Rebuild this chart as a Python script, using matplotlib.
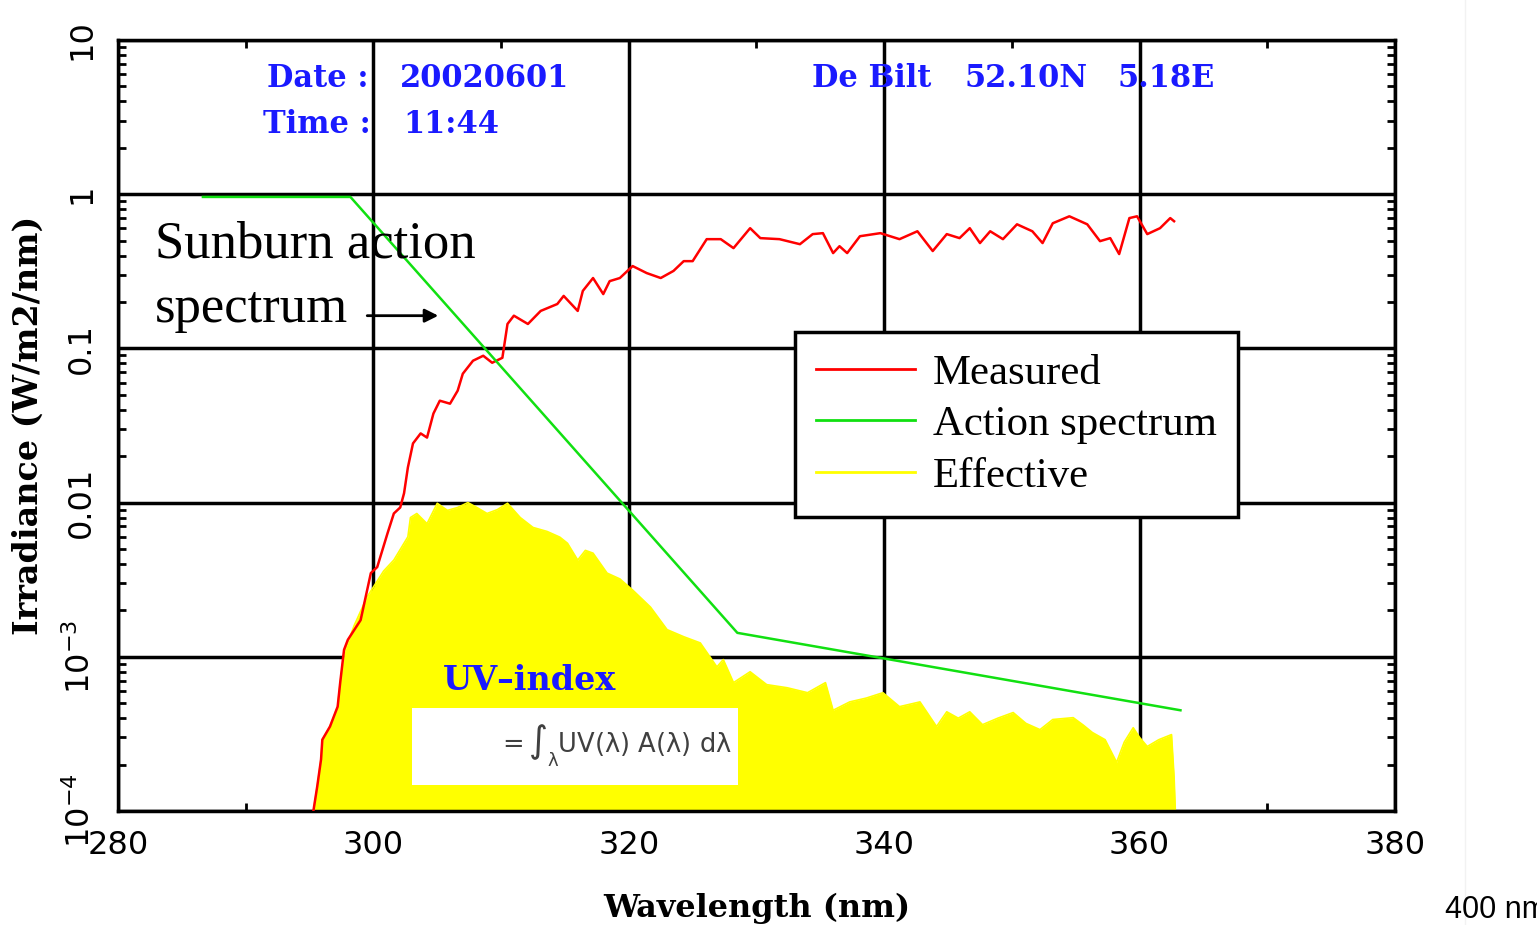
import matplotlib.pyplot as plt
from matplotlib.patches import Rectangle
from matplotlib.lines import Line2D
from matplotlib.ticker import FixedLocator, FixedFormatter, LogLocator, NullFormatter

# Measured spectral irradiance (W/m2/nm), De Bilt 2002-06-01 11:44
measured_wl = [295.3, 295.6, 295.9, 296.0, 296.6, 297.2, 297.4, 297.7, 298.0, 299.0,
               299.8, 300.3, 301.1, 301.6, 302.1, 302.4, 302.7, 303.1, 303.7, 304.2,
               304.7, 305.2, 306.0, 306.6, 307.0, 307.8, 308.6, 309.3, 310.1, 310.5,
               311.0, 312.1, 313.1, 314.4, 314.9, 316.0, 316.4, 317.2, 318.0, 318.5,
               319.3, 320.3, 321.4, 322.5, 323.5, 324.3, 325.0, 326.1, 327.2, 328.2,
               329.5, 330.3, 331.8, 333.4, 334.4, 335.2, 336.0, 336.5, 337.1, 338.1,
               339.7, 341.2, 342.6, 343.8, 344.9, 345.9, 346.7, 347.5, 348.3, 349.3,
               350.4, 351.6, 352.4, 353.2, 354.5, 355.9, 356.9, 357.7, 358.4, 359.2,
               359.8, 360.6, 361.6, 362.4, 362.7]
measured_irr = [1.0e-4, 1.44e-4, 2.16e-4, 2.9e-4, 3.53e-4, 4.75e-4, 6.8e-4, 1.11e-3, 1.29e-3, 1.73e-3,
                3.49e-3, 3.82e-3, 6.3e-3, 8.5e-3, 9.3e-3, 0.0115, 0.0169, 0.0242, 0.0281, 0.0264,
                0.0378, 0.0458, 0.0438, 0.0532, 0.0685, 0.0832, 0.0896, 0.0807, 0.0869, 0.144,
                0.163, 0.144, 0.175, 0.194, 0.219, 0.175, 0.236, 0.286, 0.225, 0.273,
                0.286, 0.342, 0.308, 0.286, 0.318, 0.368, 0.368, 0.511, 0.511, 0.447,
                0.602, 0.519, 0.511, 0.474, 0.551, 0.559, 0.415, 0.460, 0.415, 0.534,
                0.559, 0.511, 0.575, 0.428, 0.551, 0.519, 0.602, 0.482, 0.575, 0.511,
                0.638, 0.575, 0.482, 0.648, 0.719, 0.638, 0.496, 0.519, 0.409, 0.700,
                0.719, 0.551, 0.602, 0.700, 0.668]

# Erythemal (sunburn) action spectrum
action_wl = [286.65, 298.2, 328.5, 363.2]
action_val = [0.96, 0.96, 1.43e-3, 4.5e-4]

# Effective (weighted) irradiance
effective_wl = [295.3, 295.6, 295.9, 296.0, 296.6, 297.2, 297.4, 297.7, 298.5, 299.5,
                300.8, 301.6, 302.7, 302.9, 303.4, 304.2, 305.0, 305.8, 306.6, 307.4,
                308.1, 308.9, 309.7, 310.5, 311.5, 312.5, 313.6, 314.6, 315.2, 316.0,
                316.6, 317.2, 318.3, 319.3, 320.3, 321.7, 323.0, 324.3, 325.6, 326.9,
                327.4, 328.2, 329.5, 330.8, 332.4, 334.0, 335.4, 336.0, 337.3, 338.6,
                339.9, 341.2, 342.8, 344.1, 344.9, 345.8, 346.7, 347.7, 348.9, 350.1,
                351.1, 352.2, 353.2, 354.8, 355.6, 356.3, 357.3, 358.2, 358.8, 359.5,
                360.0, 360.6, 361.5, 362.5, 362.7, 362.8]
effective_irr = [1.0e-4, 1.44e-4, 2.16e-4, 2.9e-4, 3.53e-4, 4.75e-4, 6.8e-4, 1.06e-3, 1.6e-3, 2.44e-3,
                 3.6e-3, 4.24e-3, 6.0e-3, 8.0e-3, 8.5e-3, 7.3e-3, 9.9e-3, 8.9e-3, 9.3e-3, 1.0e-2,
                 9.3e-3, 8.5e-3, 9.0e-3, 9.9e-3, 8.0e-3, 6.9e-3, 6.5e-3, 5.97e-3, 5.45e-3, 4.24e-3,
                 4.9e-3, 4.7e-3, 3.49e-3, 3.2e-3, 2.71e-3, 2.1e-3, 1.5e-3, 1.35e-3, 1.23e-3, 8.6e-4,
                 9.6e-4, 6.8e-4, 8.0e-4, 6.6e-4, 6.3e-4, 5.85e-4, 6.8e-4, 4.5e-4, 5.1e-4, 5.4e-4,
                 5.85e-4, 4.75e-4, 5.1e-4, 3.53e-4, 4.4e-4, 4.0e-4, 4.4e-4, 3.63e-4, 4.0e-4, 4.35e-4,
                 3.7e-4, 3.37e-4, 3.92e-4, 4.03e-4, 3.6e-4, 3.23e-4, 2.9e-4, 2.07e-4, 2.8e-4, 3.47e-4,
                 3.0e-4, 2.62e-4, 2.9e-4, 3.13e-4, 1.67e-4, 1.0e-4]

x_ticks = [280, 300, 320, 340, 360, 380]
x_minor = [290, 310, 330, 350, 370]
y_ticks = [1e-4, 1e-3, 1e-2, 0.1, 1, 10]
y_tick_labels = [r'$10^{-4}$', r'$10^{-3}$', '0.01', '0.1', '1', '10']

plt.rcParams['mathtext.default'] = 'regular'

W, H = 1537, 925
fig = plt.figure(figsize=(W / 100, H / 100), dpi=100)
ax = fig.add_axes([118 / W, (H - 811) / H, 1277 / W, 771 / H])

ax.set_yscale('log')
ax.set_xlim(280, 380)
ax.set_ylim(1e-4, 10)

ax.fill_between(effective_wl, 1e-4, effective_irr, color='#ffff00', lw=0, zorder=2)
ax.plot(measured_wl, measured_irr, color='#ff0000', lw=1.8, label='Measured', zorder=4)
ax.plot(action_wl, action_val, color='#11e011', lw=1.8, label='Action spectrum', zorder=4)
ax.plot(effective_wl, effective_irr, color='#ffff00', lw=1.2, label='Effective', zorder=2)

# grid and ticks
ax.grid(True, which='major', color='black', lw=2.5)
ax.set_axisbelow(True)
ax.xaxis.set_major_locator(FixedLocator(x_ticks))
ax.xaxis.set_minor_locator(FixedLocator(x_minor))
ax.yaxis.set_major_locator(FixedLocator(y_ticks))
ax.yaxis.set_major_formatter(FixedFormatter(y_tick_labels))
ax.yaxis.set_minor_locator(LogLocator(base=10, subs=range(2, 10)))
ax.yaxis.set_minor_formatter(NullFormatter())
ax.tick_params(which='major', length=0, labelsize=23, pad=14)
ax.tick_params(axis='y', which='major', labelrotation=90, pad=15)
ax.tick_params(which='minor', direction='in', length=6, width=2, top=True, right=True)
for lbl in ax.get_yticklabels():
    lbl.set_va('center')
for s in ax.spines.values():
    s.set_linewidth(2.5)
    s.set_color('black')

ax.set_ylabel('Irradiance (W/m2/nm)', family='DejaVu Serif', fontweight='bold', fontsize=24)
ax.yaxis.set_label_coords(-0.057, 0.5)
ax.set_xlabel('Wavelength (nm)', family='DejaVu Serif', fontweight='bold', fontsize=23, va='top')
ax.xaxis.set_label_coords(0.5, -0.106)

leg = ax.legend(loc='upper left', bbox_to_anchor=(0.530, 0.621), borderaxespad=0,
                prop={'family': 'Liberation Serif', 'size': 30.8}, handlelength=2.3,
                handletextpad=0.42, labelspacing=0.3, borderpad=0.5,
                fancybox=False, framealpha=1, edgecolor='black')
leg.get_frame().set_linewidth(2.5)
for h in leg.get_lines():
    h.set_linewidth(2)

# white box with the UV-index formula
ax.add_patch(Rectangle((0.2302, 0.0337), 0.2553, 0.0999, transform=ax.transAxes,
                       facecolor='white', edgecolor='none', zorder=3))

blue = '#1a1aff'
info = dict(color=blue, family='DejaVu Serif', fontweight='bold', fontsize=22)
fig.text(267 / W, (H - 87) / H, 'Date :', **info)
fig.text(400 / W, (H - 87) / H, '20020601', **info)
fig.text(263 / W, (H - 133) / H, 'Time :', **info)
fig.text(403 / W, (H - 133) / H, '11:44', **info)
fig.text(812 / W, (H - 87) / H, 'De Bilt', **info)
fig.text(965 / W, (H - 87) / H, '52.10N', **info)
fig.text(1117 / W, (H - 87) / H, '5.18E', **info)
fig.text(443 / W, (H - 690) / H, 'UV\u2013index', color=blue, family='DejaVu Serif',
         fontweight='bold', fontsize=24)
fig.text(497 / W, (H - 752) / H, r'$=\int_{\lambda} UV(\lambda)\ A(\lambda)\ d\lambda$',
         color='#404040', fontsize=18.5)

serif = dict(family='Liberation Serif', fontsize=38, color='black')
fig.text(155 / W, (H - 258) / H, 'Sunburn action', **serif)
fig.text(155 / W, (H - 322) / H, 'spectrum', **serif)
ax.annotate('', xy=(305.3, 0.163), xytext=(299.3, 0.163),
            arrowprops=dict(arrowstyle='-|>', color='black', lw=2, mutation_scale=20), zorder=5)

fig.add_artist(Line2D([1465 / W, 1465 / W], [0, 1], color='#f2f2f2', lw=1))
fig.text(1445 / W, (H - 918) / H, '400 nm', family='Liberation Sans', fontsize=22)

fig.savefig('out.png', dpi=100)
